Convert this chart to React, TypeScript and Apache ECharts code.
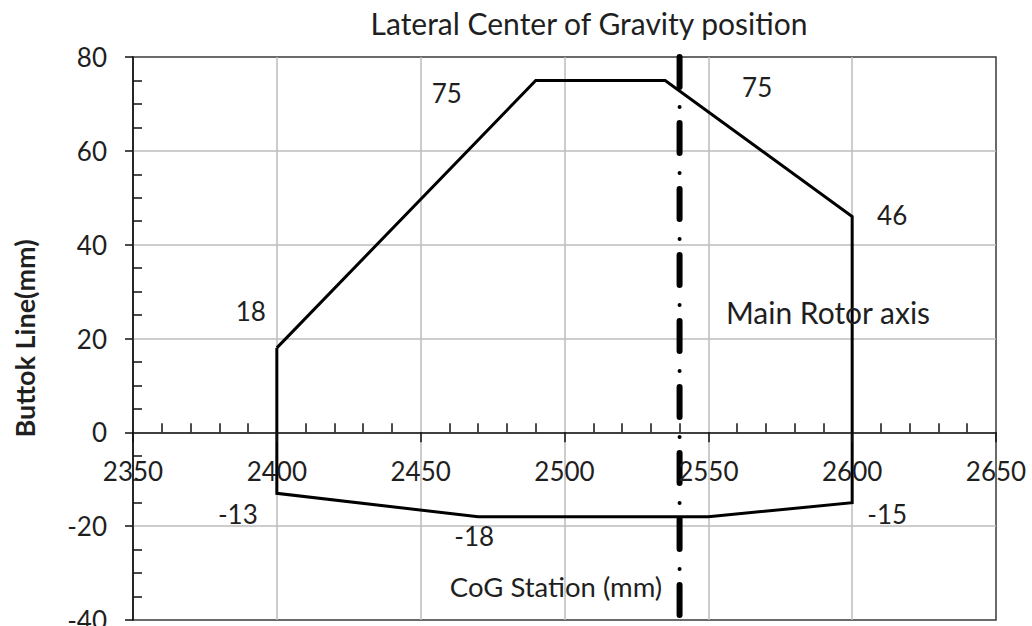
import React, { useEffect, useRef } from "react";
import * as echarts from "echarts";

// ---- data ----
const chartTitle = "Lateral Center of Gravity position";
const xAxisName = "CoG Station (mm)";
const yAxisName = "Buttok Line(mm)";
const rotorName = "Main Rotor axis";

const xTicks = [2350, 2650, 50];
const yTicks = [-40, 80, 20];

const envelopeX = [2400, 2490, 2535, 2600, 2600, 2550, 2470, 2400, 2400];
const envelopeY = [18, 75, 75, 46, -15, -18, -18, -13, 18];
const envelopeLabelled = [true, true, true, true, true, false, true, true, false];

const rotorX = 2540;

// ---- styles / layout ----
const FONT = "Lato";
const TEXT = "#1f1f1f";
const NUM_SIZE = 26;
const PLOT = { left: 133, right: 36, top: 57, bottom: 6 };
const labelOffsets: number[][] = [
  [-26, -37],
  [-89, 13],
  [92, 7],
  [40, -2],
  [35, 11],
  [0, 0],
  [-4, 19],
  [-39, 21],
  [0, 0],
];

export default function App() {
  const ref = useRef<HTMLDivElement>(null);

  useEffect(() => {
    if (!ref.current) return;
    const chart = echarts.init(ref.current, undefined, { renderer: "svg" });

    const axisLineStyle = { color: "#111", width: 1.5 };
    const gridLineStyle = { color: "#bdbdbd", width: 1.5 };
    const plain = (v: number) => String(v);

    // height of the upper part of the plot (from max of y down to 0)
    const plotHeight = 626 - PLOT.top - PLOT.bottom;
    const upperHeight = (plotHeight * yTicks[1]) / (yTicks[1] - yTicks[0]);

    const option: any = {
      animation: false,
      backgroundColor: "#fff",
      textStyle: { fontFamily: FONT, color: TEXT },
      grid: [
        {
          ...PLOT,
          containLabel: false,
          outerBoundsMode: "none",
          show: true,
          borderColor: "#3a3a3a",
          borderWidth: 1.5,
          backgroundColor: "transparent",
        },
        {
          left: PLOT.left,
          right: PLOT.right,
          top: PLOT.top,
          height: upperHeight,
          containLabel: false,
          outerBoundsMode: "none",
          show: false,
        },
      ],
      graphic: [
        {
          type: "text",
          x: 589,
          y: 23,
          style: {
            text: chartTitle,
            fontSize: 30,
            fontFamily: FONT,
            fill: TEXT,
            align: "center",
            verticalAlign: "middle",
          },
        },
        {
          type: "text",
          x: 828,
          y: 312,
          z: 10,
          style: {
            text: rotorName,
            fontSize: 30,
            fontFamily: FONT,
            fill: TEXT,
            align: "center",
            verticalAlign: "middle",
          },
        },
      ],
      xAxis: [
        {
          // data axis of the plot, carries the vertical gridlines
          gridIndex: 0,
          type: "value",
          min: xTicks[0],
          max: xTicks[1],
          interval: xTicks[2],
          axisLine: { show: false, onZero: false },
          axisTick: { show: false },
          axisLabel: { show: false },
          splitLine: { show: true, showMinLine: false, showMaxLine: false, lineStyle: gridLineStyle },
        },
        {
          // visible axis crossing at y = 0
          gridIndex: 1,
          type: "value",
          min: xTicks[0],
          max: xTicks[1],
          interval: xTicks[2],
          position: "bottom",
          axisLine: { show: true, onZero: false, lineStyle: axisLineStyle },
          axisTick: { show: true, length: 10, lineStyle: axisLineStyle },
          axisLabel: { margin: 26, fontSize: NUM_SIZE, color: TEXT, fontFamily: FONT, formatter: plain },
          splitLine: { show: false },
          name: xAxisName,
          nameLocation: "middle",
          nameGap: 140,
          nameTextStyle: { fontSize: 27.5, color: TEXT, fontFamily: FONT, padding: [0, 17, 0, 0] },
          z: 5,
        },
        {
          // minor ticks pointing up
          gridIndex: 1,
          type: "value",
          min: xTicks[0],
          max: xTicks[1],
          interval: xTicks[2],
          position: "bottom",
          axisLine: { show: false, onZero: false },
          axisTick: { show: false, inside: true },
          minorTick: { show: true, splitNumber: 5, length: 9, lineStyle: axisLineStyle },
          axisLabel: { show: false },
          splitLine: { show: false },
          z: 5,
        },
      ],
      yAxis: [
        {
          gridIndex: 0,
          type: "value",
          min: yTicks[0],
          max: yTicks[1],
          interval: yTicks[2],
          position: "left",
          axisLine: { show: true, onZero: false, lineStyle: axisLineStyle },
          axisTick: { show: true, length: 8, lineStyle: axisLineStyle },
          axisLabel: { margin: 26, fontSize: NUM_SIZE, color: TEXT, fontFamily: FONT, formatter: plain },
          splitLine: { show: true, showMinLine: false, showMaxLine: false, lineStyle: gridLineStyle },
          name: yAxisName,
          nameLocation: "middle",
          nameGap: 95,
          nameTextStyle: { fontSize: 27, fontWeight: "bold", color: TEXT, fontFamily: FONT },
        },
        {
          gridIndex: 0,
          type: "value",
          min: yTicks[0],
          max: yTicks[1],
          interval: yTicks[2],
          position: "left",
          axisLine: { show: false, onZero: false },
          axisTick: { show: false, inside: true },
          minorTick: { show: true, splitNumber: 4, length: 9, lineStyle: axisLineStyle },
          axisLabel: { show: false },
          splitLine: { show: false },
        },
        {
          gridIndex: 1,
          type: "value",
          min: 0,
          max: yTicks[1],
          show: false,
        },
      ],
      series: [
        {
          type: "line",
          xAxisIndex: 0,
          yAxisIndex: 0,
          data: envelopeX.map((x, i) => ({
            value: [x, envelopeY[i]],
            label: envelopeLabelled[i]
              ? { show: true, offset: labelOffsets[i] }
              : { show: false },
          })),
          symbol: "circle",
          symbolSize: 1,
          showSymbol: true,
          itemStyle: { color: "rgba(0,0,0,0)", borderWidth: 0 },
          lineStyle: { color: "#000", width: 3, join: "miter" },
          label: {
            position: "inside",
            formatter: (p: any) => String(p.value[1]),
            fontSize: NUM_SIZE,
            color: TEXT,
            fontFamily: FONT,
          },
          z: 3,
        },
        {
          type: "line",
          xAxisIndex: 0,
          yAxisIndex: 0,
          data: [
            [rotorX, yTicks[1]],
            [rotorX, yTicks[0]],
          ],
          symbol: "none",
          lineStyle: { color: "#000", width: 6, type: [30, 36], cap: "round" },
          z: 4,
        },
        {
          type: "line",
          xAxisIndex: 0,
          yAxisIndex: 0,
          data: [
            [rotorX, yTicks[1]],
            [rotorX, yTicks[0]],
          ],
          symbol: "none",
          lineStyle: { color: "#000", width: 4, type: [0.1, 65.9], dashOffset: 16, cap: "round" },
          z: 4,
        },
      ],
    };

    chart.setOption(option);
    return () => chart.dispose();
  }, []);

  return (
    <div
      ref={ref}
      style={{ position: "fixed", left: 0, top: 0, width: 1032, height: 626, background: "#fff" }}
    />
  );
}
